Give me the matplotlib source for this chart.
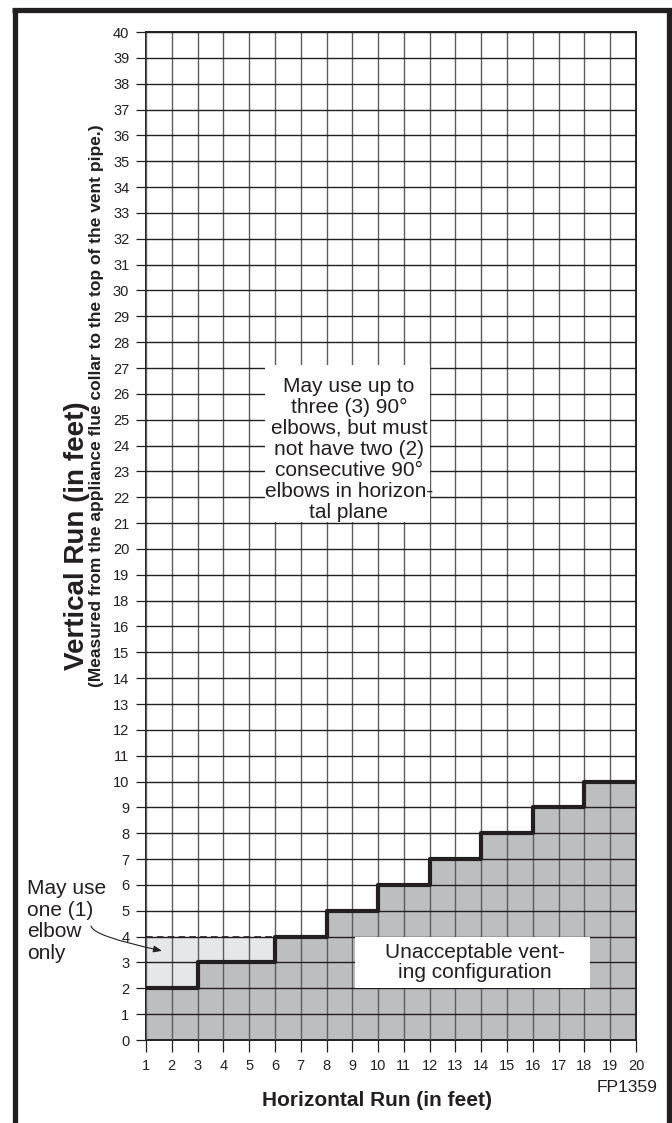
import matplotlib
matplotlib.use("Agg")
import matplotlib.pyplot as plt
from matplotlib.patches import Rectangle
from matplotlib.lines import Line2D
import numpy as np

plt.rcParams['font.family'] = ['Liberation Sans', 'DejaVu Sans']

# horizontal run (ft) where the minimum vertical run steps up, and that minimum
step_x = [1, 3, 6, 8, 10, 12, 14, 16, 18, 20]
step_y = [2, 3, 4, 5, 6, 7, 8, 9, 10, 10]

# one-elbow zone: up to 4 ft vertical, for horizontal runs 1 - 6 ft
one_elbow_x = [1, 3, 6]
one_elbow_lo = [2, 3, 3]
one_elbow_top = 4

x_ticks = list(range(1, 21))
# the printed scale skips "17"
y_tick_labels = [str(v) for v in range(0, 17)] + [str(v) for v in range(18, 41)]

INK = '#231f20'
DARK_FILL = '#bcbec0'
LIGHT_FILL = '#e6e7e8'

W, H = 672, 1123
fig = plt.figure(figsize=(W / 100, H / 100), dpi=100)
ax = fig.add_axes([146 / W, 1 - 1040 / H, 490 / W, 1008 / H])

y_pos = np.arange(len(y_tick_labels))

ax.fill_between(step_x, 0, step_y, step='post', color=DARK_FILL, lw=0, zorder=1)
ax.fill_between(one_elbow_x, one_elbow_lo, one_elbow_top, step='post',
                color=LIGHT_FILL, lw=0, zorder=1)

ax.set_xlim(1, 20)
ax.set_ylim(0, y_pos[-1])
ax.set_xticks(x_ticks)
ax.set_xticklabels([str(v) for v in x_ticks])
ax.set_yticks(y_pos)
ax.set_yticklabels(y_tick_labels)

ax.set_axisbelow(False)
ax.xaxis.grid(True, color='#5c5d60', lw=1.0)
ax.yaxis.grid(True, color=INK, lw=1.0)
ax.tick_params(axis='y', length=7, width=0.9, color=INK, pad=5, labelsize=10.5, labelcolor=INK)
ax.tick_params(axis='x', length=8.5, width=0.9, color=INK, pad=5, labelsize=10.5, labelcolor=INK)
for s in ax.spines.values():
    s.set_color(INK)
    s.set_linewidth(1.4)

ax.step(step_x, step_y, where='post', color=INK, lw=3.0, zorder=4)
ax.plot([one_elbow_x[0], one_elbow_x[-1]], [one_elbow_top, one_elbow_top],
        color=INK, lw=1.2, ls=(0, (4, 2.5)), zorder=4)

# white label boxes
ax.add_patch(Rectangle((5.6, 20.05), 6.4, 6.05, facecolor='white', edgecolor='none', zorder=3))
ax.text(8.87, 22.85, "May use up to\nthree (3) 90\u00b0\nelbows, but must\nnot have two (2)\n"
        "consecutive 90\u00b0\nelbows in horizon-\ntal plane",
        ha='center', va='center', fontsize=15, color=INK, linespacing=1.14, zorder=5)

ax.add_patch(Rectangle((9.1, 2.0), 9.1, 2.0, facecolor='white', edgecolor='none', zorder=3))
ax.text(13.75, 3.0, "Unacceptable vent-\ning configuration",
        ha='center', va='center', fontsize=15, color=INK, linespacing=1.05, zorder=5)

fig.text(27 / W, 1 - 921 / H, "May use\none (1)\nelbow\nonly", ha='left', va='center',
         fontsize=15, color=INK, linespacing=1.16)
ax.annotate('', xy=(1.62, 3.45), xycoords='data',
            xytext=(91, H - 926), textcoords='figure pixels',
            arrowprops=dict(arrowstyle='-|>,head_length=0.5,head_width=0.2',
                            connectionstyle='angle3,angleA=-80,angleB=-12',
                            color=INK, lw=0.8, shrinkA=0, shrinkB=0, mutation_scale=10),
            zorder=6)

# axis titles
fig.text(77 / W, 1 - 536 / H, "Vertical Run (in feet)", rotation=90, ha='center', va='center',
         fontsize=20, fontweight='bold', color=INK)
fig.text(97 / W, 1 - 406 / H, "(Measured from the appliance flue collar to the top of the vent pipe.)",
         rotation=90, ha='center', va='center', fontsize=12.5, fontweight='bold', color=INK)
fig.text(377 / W, 1 - 1100 / H, "Horizontal Run (in feet)", ha='center', va='center',
         fontsize=15, fontweight='bold', color=INK)
fig.text(657 / W, 1 - 1087 / H, "FP1359", ha='right', va='center', fontsize=12.5, color=INK)

# outer frame (left, top, right)
for xs, ys in [([14.5, 14.5], [0, H - 10]), ([12, W], [H - 10, H - 10]), ([669, 669], [0, H - 10])]:
    fig.add_artist(Line2D([x / W for x in xs], [y / H for y in ys], color=INK, lw=3.8,
                          solid_capstyle='butt'))

fig.savefig('out.png', dpi=100)
